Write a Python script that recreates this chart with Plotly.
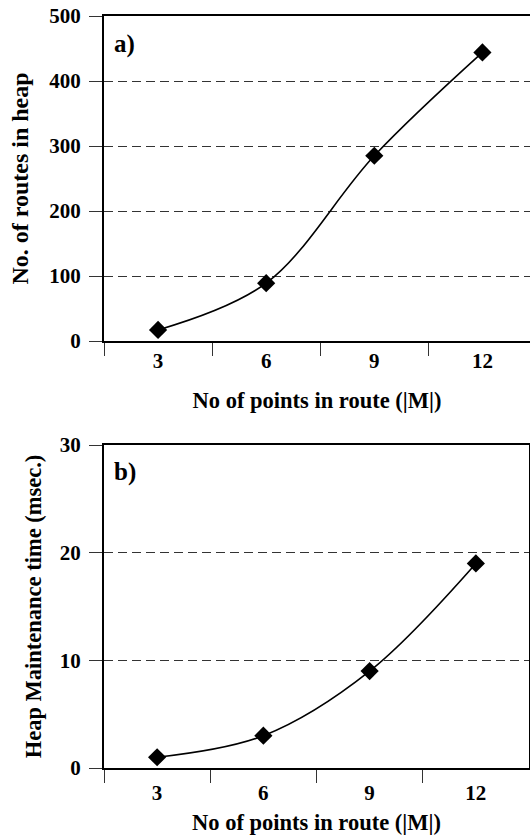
import plotly.graph_objects as go

categories = ["3", "6", "9", "12"]
routes_in_heap = [17, 89, 285, 444]
heap_time_ms = [1, 3, 9, 19]

W, H = 530, 835
FONT = "Liberation Serif"

def fx(px):
    return px / W

def fy(py):
    return 1 - py / H

fig = go.Figure()
fig.add_trace(go.Scatter(
    x=categories, y=routes_in_heap, mode="lines+markers",
    line=dict(color="black", width=1.6, shape="spline", smoothing=1.0),
    marker=dict(symbol="diamond", size=14, color="black"),
    xaxis="x", yaxis="y", showlegend=False))
fig.add_trace(go.Scatter(
    x=categories, y=heap_time_ms, mode="lines+markers",
    line=dict(color="black", width=1.6, shape="spline", smoothing=1.0),
    marker=dict(symbol="diamond", size=14, color="black"),
    xaxis="x2", yaxis="y2", showlegend=False))

tickfont = dict(family=FONT, size=21, color="black", weight="bold")
titlefont = dict(family=FONT, size=22.5, color="black", weight="bold")

common_x = dict(type="category", tickson="boundaries", ticks="outside", ticklen=13,
                tickcolor="#333", tickwidth=1.3, showline=True, linecolor="black",
                linewidth=2, mirror=True, showgrid=False, zeroline=False,
                tickfont=tickfont, automargin=False)
common_y = dict(ticks="outside", ticklen=13, tickcolor="#333", tickwidth=1.3,
                showline=True, linecolor="black", linewidth=2, showgrid=True,
                gridcolor="#333", gridwidth=1.2, griddash="9px,5px",
                zeroline=False, tickfont=tickfont, automargin=False,
                ticklabelstandoff=4)

fig.update_layout(
    width=W, height=H, margin=dict(l=0, r=0, t=0, b=0),
    paper_bgcolor="white", plot_bgcolor="white",
    xaxis=dict(common_x, domain=[fx(104), 1.0], range=[-0.5, 3.44], anchor="y",
               mirror=True,
               title=dict(text="No of points in route (|M|)", font=titlefont, standoff=20)),
    yaxis=dict(common_y, domain=[fy(341), fy(16)], range=[0, 500], anchor="x",
               tickvals=[0, 100, 200, 300, 400, 500], mirror=False,
               title=dict(text="No. of routes in heap",
                          font=dict(titlefont, size=24), standoff=14)),
    xaxis2=dict(common_x, domain=[fx(104), fx(529)], range=[-0.5, 3.5], anchor="y2",
                ticklabelstandoff=5,
                title=dict(text="No of points in route (|M|)", font=titlefont, standoff=12)),
    yaxis2=dict(common_y, domain=[fy(768), fy(445)], range=[0, 30], anchor="x2",
                tickvals=[0, 10, 20, 30], mirror=True,
                title=dict(text="Heap Maintenance time (msec.)", font=titlefont, standoff=12)),
    annotations=[
        dict(text="a)", x=fx(112), y=fy(44), xref="paper", yref="paper",
             xanchor="left", yanchor="middle", showarrow=False,
             font=dict(family=FONT, size=25, color="black", weight="bold")),
        dict(text="b)", x=fx(112), y=fy(472), xref="paper", yref="paper",
             xanchor="left", yanchor="middle", showarrow=False,
             font=dict(family=FONT, size=25, color="black", weight="bold")),
    ],
)

fig.write_html("out.html")
